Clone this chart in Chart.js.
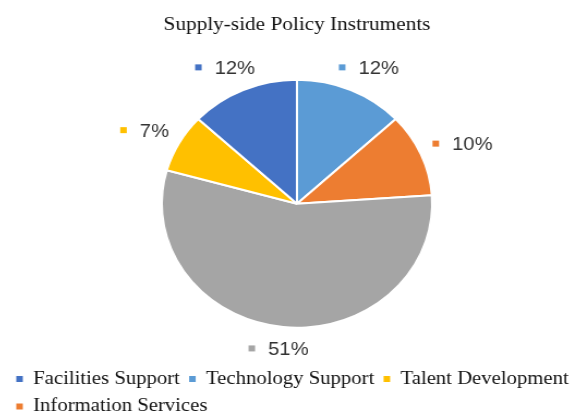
<!DOCTYPE html>
<html>
<head>
<meta charset="utf-8">
<script src="https://cdn.jsdelivr.net/npm/chart.js@4.4.1/dist/chart.umd.min.js"></script>
<style>
  html, body { margin: 0; padding: 0; background: #fff; overflow: hidden; }
  /* the figure is drawn a bit narrower and widened to fill the window */
  #wrap { width: 532px; height: 415px; transform: translateX(7px) scaleX(1.0902); transform-origin: 0 0; }
</style>
</head>
<body>
<div id="wrap"><canvas id="chart"></canvas></div>
<script>
// slices, clockwise from 12 o'clock
const categories = ['Technology Support', 'Information Services', 'Other', 'Talent Development', 'Facilities Support'];
const shares = [12, 10, 51, 7, 12];
const colors = ['#5B9BD5', '#ED7D31', '#A5A5A5', '#FFC000', '#4472C4'];
const legendOrder = ['Facilities Support', 'Technology Support', 'Talent Development', 'Information Services'];

const serif = '"Liberation Serif", "Times New Roman", serif';
const sans = '"Liberation Sans", Arial, sans-serif';

// percentage labels with a small colour key, outside each slice
const sliceLabels = {
  id: 'sliceLabels',
  afterDatasetsDraw(chart) {
    const ctx = chart.ctx;
    const meta = chart.getDatasetMeta(0);
    const values = chart.data.datasets[0].data;
    ctx.save();
    ctx.font = '18.5px ' + sans;
    ctx.textBaseline = 'middle';
    meta.data.forEach((arc, i) => {
      const p = arc.getProps(['x', 'y', 'startAngle', 'endAngle', 'outerRadius'], true);
      const mid = (p.startAngle + p.endAngle) / 2;
      const text = values[i] + '%';
      const w = 6 + 12 + ctx.measureText(text).width;
      const r = p.outerRadius + 14;
      const cx = p.x + Math.cos(mid) * (r + w / 2);
      const cy = p.y + Math.sin(mid) * (r + 9);
      const left = cx - w / 2;
      ctx.fillStyle = colors[i];
      ctx.fillRect(left, cy - 4.5, 6, 6);
      ctx.fillStyle = '#333';
      ctx.fillText(text, left + 18, cy);
    });
    ctx.restore();
  }
};

const baseLabels = Chart.overrides.doughnut.plugins.legend.labels.generateLabels;

new Chart(document.getElementById('chart'), {
  type: 'pie',
  data: {
    labels: categories,
    datasets: [{
      data: shares,
      backgroundColor: colors,
      borderColor: '#fff',
      borderWidth: 2,
      radius: 124
    }]
  },
  options: {
    responsive: true,
    maintainAspectRatio: false,
    animation: false,
    layout: { padding: 0 },
    plugins: {
      tooltip: { enabled: false },
      title: {
        display: true,
        text: 'Supply-side Policy Instruments',
        color: '#111',
        font: { family: serif, size: 19.5, weight: 'normal' },
        padding: { top: 13, bottom: 10 }
      },
      legend: {
        position: 'bottom',
        align: 'start',
        maxHeight: 54,
        labels: {
          color: '#111',
          font: { family: serif, size: 19 },
          boxWidth: 6,
          boxHeight: 6,
          padding: 8.5,
          generateLabels: (chart) => baseLabels(chart).map(l => Object.assign(l, { lineWidth: 0 })),
          filter: (item) => legendOrder.includes(item.text),
          sort: (a, b) => legendOrder.indexOf(a.text) - legendOrder.indexOf(b.text)
        }
      }
    }
  },
  plugins: [sliceLabels]
});
</script>
</body>
</html>
